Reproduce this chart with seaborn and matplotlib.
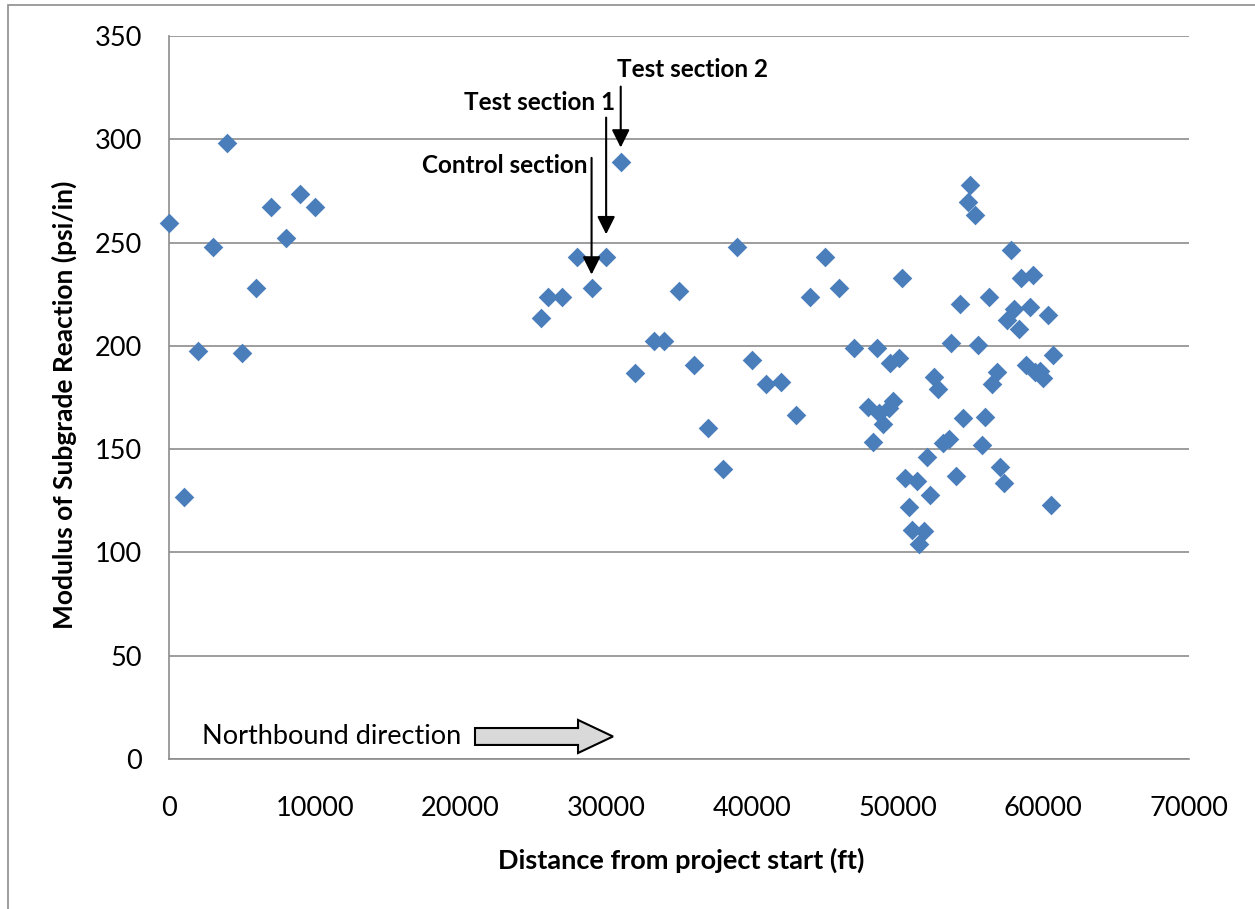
import matplotlib
matplotlib.use("Agg")
import matplotlib.pyplot as plt
from matplotlib.patches import FancyArrow, Rectangle
import seaborn as sns
import pandas as pd

# Station along the alignment (ft) and back-calculated modulus of subgrade reaction (psi/in)
distance_ft = [
    0, 1000, 2000, 3000, 4000, 5000, 6000, 7000, 8000, 9000, 10000,
    25500, 26000, 27000, 28000, 29000, 30000, 31000, 32000, 33300, 34000,
    35000, 36000, 37000, 38000, 39000, 40000, 41000, 42000, 43000, 44000,
    45000, 46000, 47000, 48000, 48300, 48600, 48700, 49000, 49400, 49500,
    49700, 50100, 50300,
    50500, 50800, 51000, 51300, 51500, 51800, 52000, 52200, 52500, 52800,
    53100, 53500, 53700, 54000, 54300, 54500, 54800, 55000, 55300, 55500,
    55800, 56000, 56300, 56500, 56800, 57000, 57300, 57500, 57800, 58000,
    58300, 58500, 58800, 59100, 59300, 59400, 59800, 60000, 60300, 60500,
    60700,
]
k_value = [
    259.5, 127, 197.5, 248, 298, 196.5, 228, 267, 252, 273.5, 267,
    213.5, 223.5, 223.5, 243, 228, 243, 289, 187, 202.5, 202.5,
    226.5, 190.5, 160, 140.5, 248, 193, 181.5, 182.5, 166.5, 223.5,
    243, 228, 199, 170.5, 153.5, 199, 167.5, 162, 170, 191.5,
    173.5, 194, 233,
    136, 122, 111, 134.5, 104, 110.5, 146, 128, 185, 179,
    153, 155, 201.5, 137, 220.5, 165, 269.5, 278, 263.5, 200.5,
    152, 165.5, 223.5, 181.5, 187.5, 141.5, 133.5, 212.5, 246.5, 218,
    208, 233, 190.5, 219, 234.5, 187.5, 188, 184.5, 215, 123,
    195.5,
]

# Marked sections: (label, station, k at that station)
sections = [
    ("Control section", 29000, 228),
    ("Test section 1", 30000, 243),
    ("Test section 2", 31000, 289),
]

x_ticks = [0, 10000, 20000, 30000, 40000, 50000, 60000, 70000]
y_ticks = [0, 50, 100, 150, 200, 250, 300, 350]

df = pd.DataFrame({"distance": distance_ft, "k": k_value})

sns.set_style("white")
plt.rcParams["font.family"] = ["Lato", "DejaVu Sans"]
plt.rcParams["text.color"] = "black"
plt.rcParams["axes.labelcolor"] = "black"

fig = plt.figure(figsize=(12.55, 9.09), dpi=100)
ax = fig.add_axes([169 / 1255, 1 - 759 / 909, 1020 / 1255, 723 / 909])

sns.scatterplot(data=df, x="distance", y="k", marker="D", s=100,
                color="#4A7EBB", linewidth=0, ax=ax, zorder=3)
for coll in ax.collections:
    coll.set_clip_on(False)

grid_c = "#8C8C8C"
ax.set_xlim(0, 70000)
ax.set_ylim(0, 350)
ax.set_xticks(x_ticks)
ax.set_yticks(y_ticks)
ax.set_xticklabels([str(t) for t in x_ticks])
ax.set_yticklabels([str(t) for t in y_ticks])
ax.yaxis.grid(True, color=grid_c, linewidth=1.2)
ax.xaxis.grid(False)
ax.set_axisbelow(True)
for side in ("top", "right"):
    ax.spines[side].set_visible(False)
for side in ("left", "bottom"):
    ax.spines[side].set_color(grid_c)
    ax.spines[side].set_linewidth(1.2)
ax.tick_params(axis="both", which="major", direction="out", length=6.5,
               width=1.2, color=grid_c, labelsize=19.5, labelcolor="black")
ax.tick_params(axis="y", pad=13)
ax.tick_params(axis="x", pad=20)

ax.set_xlabel("Distance from project start (ft)", fontsize=19.5, fontweight="bold")
ax.set_ylabel("Modulus of Subgrade Reaction (psi/in)", fontsize=19, fontweight="bold")
ax.xaxis.set_label_coords(0.502, -0.122)
ax.yaxis.set_label_coords(-0.09, 0.49)

# Section call-outs: label plus a downward arrow onto the marked point
label_pos = {
    "Control section": (28700, 287.3, "right"),
    "Test section 1": (30600, 317.8, "right"),
    "Test section 2": (30750, 333.8, "left"),
}
arrow_span = {
    "Control section": (291, 6.5),
    "Test section 1": (310.5, 11),
    "Test section 2": (325.5, 7),
}
for name, xs, ys in sections:
    tx, ty, ha = label_pos[name]
    ax.text(tx, ty, name, fontsize=17.5, fontweight="bold", ha=ha, va="center",
            color="black", zorder=5)
    y_start, gap = arrow_span[name]
    ax.annotate("", xy=(xs, ys + gap), xytext=(xs, y_start),
                arrowprops=dict(arrowstyle="-|>,head_length=0.6,head_width=0.3",
                                mutation_scale=18, color="black", lw=1.5,
                                shrinkA=0, shrinkB=0), zorder=5)

# Direction of travel
ax.text(2250, 10.9, "Northbound direction", fontsize=19.5, ha="left", va="center",
        color="black")
ax.add_patch(FancyArrow(21000, 10.9, 9470, 0, width=8.2, head_width=16.0,
                        head_length=2400, length_includes_head=True,
                        facecolor="#D9D9D9", edgecolor="black", linewidth=1.5,
                        zorder=4))

# Chart frame
fig.add_artist(Rectangle((8 / 1255, -0.05), 1.2, 1 - 5 / 909 + 0.05,
                         transform=fig.transFigure, fill=False,
                         edgecolor="#8C8C8C", linewidth=1.2))

fig.savefig("out.png", dpi=100, facecolor="white")
